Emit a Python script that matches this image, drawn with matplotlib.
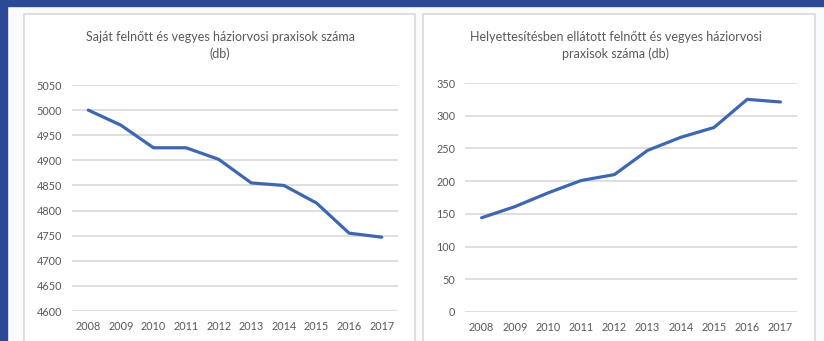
import matplotlib.pyplot as plt
from matplotlib.patches import Rectangle

years = ['2008', '2009', '2010', '2011', '2012', '2013', '2014', '2015', '2016', '2017']
sajat = [5000, 4970, 4925, 4925, 4902, 4855, 4850, 4815, 4755, 4747]
helyettesites = [144, 161, 182, 201, 210, 247, 267, 282, 325, 321]

title_left = 'Saját felnőtt és vegyes háziorvosi praxisok száma\n(db)'
title_right = 'Helyettesítésben ellátott felnőtt és vegyes háziorvosi\npraxisok száma (db)'

plt.rcParams['font.family'] = ['Lato', 'DejaVu Sans']
W, H = 824, 341
fig = plt.figure(figsize=(W / 100, H / 100), dpi=100)
fig.patch.set_facecolor('#fafbfd')

# navy frame (top and left) and the two white panels
fig.patches.append(Rectangle((0, 1 - 6 / H), 1, 6 / H, transform=fig.transFigure,
                             color='#2b4a93', zorder=-10))
fig.patches.append(Rectangle((0, 0), 7 / W, 1, transform=fig.transFigure,
                             color='#2b4a93', zorder=-10))
for x0, x1 in [(24, 415), (423, 815)]:
    fig.patches.append(Rectangle((x0 / W, -0.05), (x1 - x0) / W, 1.05 - 14 / H,
                                 transform=fig.transFigure, facecolor='white',
                                 edgecolor='#d9d9d9', lw=1.2, zorder=-10))

text_col = '#595959'
line_col = '#3f67b1'


def panel(rect, values, ylim, yticks, title, tx):
    ax = fig.add_axes(rect)
    ax.set_facecolor('none')
    x = range(len(years))
    ax.plot(x, values, color=line_col, lw=2.3, solid_capstyle='round')
    ax.set_xlim(-0.5, len(years) - 0.5)
    ax.set_ylim(*ylim)
    ax.set_yticks(yticks)
    ax.set_xticks(list(x))
    ax.set_xticklabels(years)
    ax.grid(axis='y', color='#d9d9d9', lw=1.2)
    ax.set_axisbelow(True)
    for s in ax.spines.values():
        s.set_visible(False)
    ax.tick_params(length=0, labelsize=7.8, colors=text_col, pad=7)
    fig.text(tx / W, 1 - 31 / H, title, ha='center', va='top', fontsize=9,
             color=text_col, linespacing=1.45)
    return ax


panel([72 / W, 30 / H, 326 / W, 226 / H], sajat, (4600, 5050),
      range(4600, 5051, 50), title_left, 220)
panel([465 / W, 29 / H, 332 / W, 229 / H], helyettesites, (0, 350),
      range(0, 351, 50), title_right, 616)

fig.savefig('out.png', dpi=100)
